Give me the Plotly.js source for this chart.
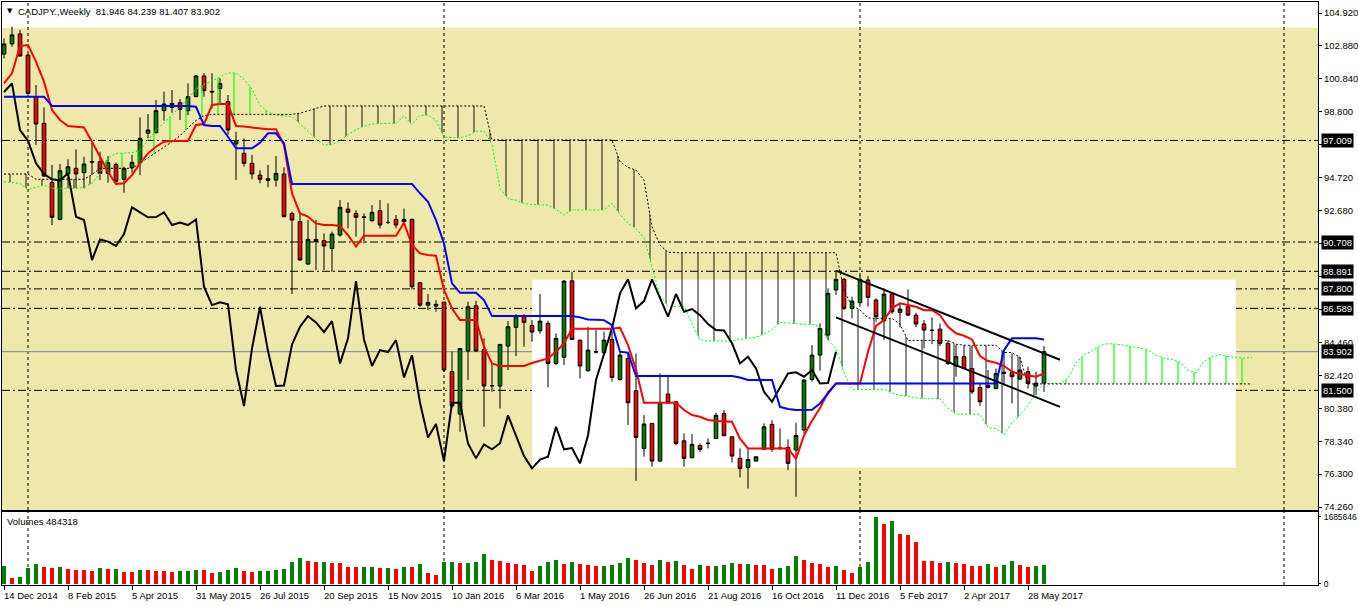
<!DOCTYPE html>
<html><head><meta charset="utf-8">
<script src="https://cdn.plot.ly/plotly-3.0.1.min.js"></script>
<style>html,body{margin:0;padding:0;background:#fff;}#chart{width:1358px;height:606px;}</style>
</head><body><div id="chart"></div>
<script>
const symbolTitle = 'CADJPY.,Weekly  81.946 84.239 81.407 83.902';
const volumeTitle = 'Volumes 484318';
const firstWeek = '2014-12-14';

const openP = [102.37,103.00,103.62,102.31,99.73,98.07,94.41,92.11,94.93,95.28,95.01,95.69,95.69,94.97,95.51,94.60,95.32,95.63,97.45,97.49,
98.86,99.06,99.35,98.86,99.73,101.01,100.06,100.24,99.42,96.79,96.21,95.59,94.86,94.64,94.55,94.93,92.48,91.97,89.34,90.87,
90.79,90.31,91.14,92.75,92.48,92.24,92.03,92.65,91.93,92.11,91.97,92.11,88.18,86.79,86.73,86.98,82.66,80.03,83.94,86.75,
84.04,81.77,81.77,84.25,85.41,86.07,85.53,85.20,85.66,83.17,83.55,88.30,84.62,82.72,83.90,83.84,84.66,82.18,83.48,81.48,
77.90,79.45,77.11,81.27,80.79,78.37,77.32,78.08,78.21,78.52,80.07,78.62,77.28,76.72,77.11,77.84,79.39,77.90,77.96,77.80,
79.04,82.18,83.69,84.93,87.73,88.39,86.59,86.94,88.35,87.11,85.82,87.48,86.34,86.69,86.17,85.62,85.24,85.30,84.42,83.01,
83.59,82.86,81.68,81.79,81.62,82.55,82.61,82.20,82.66,81.77,81.946];
const highP = [103.35,104.07,103.87,102.38,100.45,99.06,95.49,95.55,95.84,96.46,96.00,96.87,96.31,96.04,95.63,95.38,96.11,98.44,98.65,99.52,
100.04,100.14,99.58,100.55,101.07,101.18,101.18,100.86,99.83,97.55,97.14,96.11,95.17,95.49,96.04,95.34,92.59,92.53,92.07,92.07,
91.24,91.35,93.31,93.17,92.69,92.48,93.00,93.31,93.11,92.38,92.79,92.17,88.24,87.48,87.10,86.98,83.90,84.10,87.00,87.06,
84.73,83.17,84.35,85.80,86.23,86.23,85.86,87.48,85.82,85.04,88.35,88.86,84.62,85.45,85.24,85.14,85.14,83.90,83.79,83.79,
79.97,79.45,82.55,82.35,80.79,78.83,78.79,78.21,78.52,80.11,80.28,78.62,77.90,77.84,77.38,79.45,79.66,79.14,78.46,79.49,
82.20,84.31,85.66,87.83,88.97,88.45,87.31,88.66,88.59,87.21,87.83,87.56,86.90,87.77,86.32,85.86,86.03,85.66,84.62,84.31,
84.31,84.25,81.93,82.76,82.86,83.90,83.79,83.59,82.97,82.66,84.239];
const lowP = [102.10,102.83,102.21,99.90,96.73,94.76,91.76,92.07,94.04,94.04,94.04,94.86,94.55,94.39,94.35,93.77,95.01,94.86,97.14,97.45,
98.24,98.73,98.28,98.59,99.69,99.73,99.00,99.21,97.35,94.55,95.38,94.60,94.35,94.10,94.14,92.24,87.48,89.55,89.30,88.97,
88.97,88.86,91.04,91.55,91.04,90.62,91.97,91.55,91.82,91.55,91.86,87.77,86.69,86.48,86.38,82.66,80.40,78.93,82.14,83.90,
79.24,81.41,80.38,82.76,83.63,84.21,84.52,85.00,81.69,83.07,83.07,84.62,82.24,82.66,83.79,83.84,82.04,82.10,79.35,75.89,
77.38,76.76,77.07,80.69,78.10,76.76,77.28,77.69,77.90,78.52,78.68,77.03,76.10,75.41,77.11,77.80,77.69,77.80,76.55,74.90,
78.83,82.04,82.72,84.62,87.42,86.48,85.97,86.69,86.69,85.76,84.62,86.24,85.41,86.11,85.41,84.10,84.37,84.25,83.07,82.35,
82.86,81.27,80.52,81.62,81.56,81.80,80.69,82.14,81.62,81.21,81.407];
const closeP = [103.00,103.56,102.25,99.93,98.03,94.80,92.24,95.13,95.38,94.93,95.55,95.67,94.97,95.63,94.47,95.28,95.65,97.14,97.66,98.86,
99.27,99.31,98.94,99.73,101.01,100.10,100.02,100.55,97.66,96.99,95.59,94.93,94.60,94.53,94.97,92.28,92.07,89.59,90.87,90.73,
90.46,91.20,92.86,92.55,92.24,92.26,92.55,91.76,91.92,91.76,92.11,87.93,86.79,86.96,86.84,82.76,80.53,84.10,86.69,83.94,
81.77,81.80,84.35,85.45,86.11,85.72,85.12,85.80,83.17,84.73,88.28,84.66,83.01,84.00,83.88,84.62,82.30,83.69,80.73,78.58,
79.41,77.11,80.73,80.73,78.21,77.28,78.15,77.84,78.22,79.95,78.68,77.42,76.66,77.21,77.38,79.24,77.84,77.92,76.97,78.70,
82.14,83.69,85.35,87.52,88.39,86.59,87.04,88.39,87.27,86.07,87.48,86.38,86.55,86.17,85.62,85.24,85.22,84.42,83.17,83.59,
82.86,81.41,80.79,81.68,82.55,82.62,82.35,82.76,81.93,81.95,83.902];
const volumes = [451000,159000,184000,401000,501000,426000,401000,426000,376000,351000,349000,326000,401000,376000,378000,301000,299000,351000,349000,326000,
324000,301000,326000,327000,351000,349000,276000,301000,351000,401000,326000,301000,326000,327000,351000,376000,551000,651000,576000,551000,
552000,526000,525000,426000,425000,426000,427000,401000,402000,376000,426000,425000,501000,276000,225000,551000,552000,526000,527000,551000,
751000,601000,576000,526000,501000,476000,326000,451000,551000,601000,501000,551000,501000,476000,451000,452000,476000,526000,651000,601000,
526000,476000,601000,551000,576000,476000,376000,476000,451000,452000,476000,526000,501000,502000,476000,475000,376000,401000,451000,701000,
601000,526000,501000,426000,451000,351000,276000,426000,551000,1685646,1503000,1578000,1252000,1227000,1052000,576000,575000,526000,551000,526000,
501000,451000,450000,501000,426000,476000,576000,476000,420000,455000,484318];
const tenkan = [100.55,101.18,102.87,102.93,101.90,100.66,98.90,98.28,97.91,97.87,97.82,96.93,96.00,95.07,94.31,94.35,94.86,95.59,96.21,96.62,
96.93,96.98,96.98,96.98,97.97,98.03,99.21,99.27,99.27,97.91,97.87,97.82,97.76,97.70,97.70,96.73,93.73,92.48,92.28,91.86,
91.76,91.76,91.70,91.14,90.42,91.10,91.10,91.10,91.10,91.10,91.90,90.52,90.00,89.90,89.86,87.73,86.59,85.86,85.86,85.86,
84.21,83.17,83.01,83.01,83.01,83.01,83.20,83.35,83.48,83.90,84.42,85.33,85.33,85.33,85.33,85.33,85.33,85.39,84.31,82.80,
80.73,80.73,80.73,80.73,80.73,80.28,79.97,79.86,79.66,79.60,79.58,79.55,78.50,77.90,77.90,77.90,77.90,77.90,77.90,77.25,
78.70,79.62,80.40,81.38,81.93,81.93,81.93,81.93,83.90,85.50,85.86,86.60,86.90,86.80,86.69,86.48,86.48,86.17,85.45,85.04,
84.89,84.66,83.63,83.32,83.21,83.01,82.66,82.51,82.45,82.35,82.55];
const kijun = [99.73,99.73,99.73,99.73,99.73,99.73,99.15,99.15,99.15,99.15,99.15,99.15,99.15,99.15,99.15,99.15,99.15,99.15,99.15,99.15,
99.15,99.15,99.15,99.15,99.10,97.97,97.91,97.91,97.24,96.52,96.52,96.52,96.87,97.45,97.45,96.83,94.31,94.31,94.31,94.31,
94.31,94.31,94.31,94.31,94.31,94.31,94.31,94.31,94.31,94.31,94.31,94.31,93.73,93.21,92.07,90.62,88.14,87.56,87.56,87.56,
87.10,86.11,86.11,86.11,86.11,86.11,86.11,86.11,86.11,86.11,86.11,86.11,86.03,85.90,85.88,85.86,85.55,83.90,83.84,82.39,
82.39,82.39,82.39,82.39,82.39,82.39,82.39,82.39,82.39,82.39,82.39,82.39,82.30,82.14,82.14,82.14,82.14,80.48,80.35,80.28,
80.28,80.30,80.69,81.31,81.93,81.93,81.93,81.93,81.93,81.93,81.93,81.93,81.93,81.93,81.93,81.93,81.93,81.93,81.93,81.93,
81.93,81.93,81.93,81.93,81.93,84.00,84.73,84.73,84.73,84.73,84.66];
const spanA = [94.45,94.40,94.35,93.95,94.10,94.24,94.04,94.04,94.04,94.04,94.10,94.35,94.97,95.90,96.21,96.23,96.25,96.40,97.00,97.66,
98.10,98.60,99.10,99.60,100.20,100.50,100.70,100.95,101.20,101.20,100.80,100.20,99.20,98.80,98.55,98.53,98.50,98.04,97.58,97.11,
96.73,96.75,97.00,97.37,97.68,97.89,98.04,98.07,98.07,98.07,98.53,98.00,98.56,98.59,98.26,97.22,97.20,97.17,97.30,97.58,
97.58,96.78,94.02,93.40,93.30,93.09,93.04,93.04,93.00,92.73,92.37,92.70,92.70,92.70,92.70,92.70,93.10,92.42,91.87,91.55,
90.97,89.18,87.37,86.71,86.71,86.71,85.66,84.64,84.56,84.56,84.56,84.56,84.66,84.73,84.80,85.00,85.27,85.72,85.68,85.62,
85.60,85.60,85.44,84.65,84.08,82.60,81.56,81.56,81.56,81.56,81.56,81.34,81.18,81.13,81.03,81.00,80.99,80.97,80.40,80.02,
80.02,80.02,80.02,79.19,79.13,78.77,79.49,79.96,80.55,81.35,81.93,81.93,81.93,82.24,83.20,83.72,83.95,84.27,84.40,84.37,
84.31,84.20,84.15,84.00,83.69,83.49,83.41,83.25,82.75,82.60,83.30,83.60,83.72,83.60,83.55,83.50,83.55];
const spanB = [94.93,94.93,94.93,94.93,94.60,94.60,94.60,94.60,94.60,94.60,94.60,94.90,95.28,95.28,95.28,95.28,95.28,95.60,95.95,96.30,
96.60,96.93,97.30,97.80,98.25,98.55,98.63,98.63,98.63,98.63,98.63,98.63,98.63,98.63,98.63,98.63,98.63,98.70,98.85,99.00,
99.15,99.15,99.15,99.15,99.15,99.15,99.15,99.15,99.15,99.15,99.15,99.15,99.15,99.15,99.15,99.15,99.15,99.15,99.15,99.15,
99.15,97.04,97.04,97.04,97.04,97.04,97.04,97.04,97.04,97.04,97.04,97.04,97.04,97.04,97.04,97.04,97.04,95.69,95.34,95.17,
94.55,91.66,90.52,90.07,90.04,90.04,90.04,90.04,90.04,90.04,90.04,90.04,90.04,90.04,90.04,90.04,90.04,90.04,90.04,90.04,
90.04,90.04,90.04,90.04,90.04,87.70,86.72,86.50,86.00,85.97,85.97,85.97,85.60,84.60,84.60,84.60,84.60,84.60,84.60,84.36,
84.30,84.30,84.30,84.30,84.30,83.85,83.85,83.54,81.90,81.90,81.90,81.90,81.90,81.90,81.90,81.90,81.90,81.90,81.90,81.90,
81.90,81.90,81.90,81.90,81.90,81.90,81.90,81.90,81.90,81.90,81.90,81.90,81.90,81.90,81.90,81.90,81.90];

const tickLabels = ['14 Dec 2014','8 Feb 2015','5 Apr 2015','31 May 2015','26 Jul 2015','20 Sep 2015','15 Nov 2015','10 Jan 2016',
'6 Mar 2016','1 May 2016','26 Jun 2016','21 Aug 2016','16 Oct 2016','11 Dec 2016','5 Feb 2017','2 Apr 2017','28 May 2017'];
const priceTicks = [104.920,102.880,100.840,98.800,96.760,94.720,92.680,90.640,88.540,86.500,84.460,82.420,80.380,78.340,76.300,74.260];
const hiddenTicks = [96.760,90.640,88.540,86.500];
const volumeTicks = [0,1685646];
const levels = [97.009,90.708,88.891,87.800,86.589,81.500];
const lastPrice = 83.902;
const separators = ['2015-01-04','2016-01-03','2017-01-01','2018-01-07'];
const trendX = ['2016-12-11','2017-06-25'];
const upperTrendY = [88.93,83.40];
const lowerTrendY = [86.03,80.48];
const bgRectTop = 104.0;
const whiteRectX = ['2016-03-20','2017-11-26'];
const whiteRectY = [76.70,88.37];

const WEEK = 7*24*3600*1000;
const t0 = Date.parse(firstWeek+'T00:00:00Z');
function ds(ms){return new Date(ms).toISOString().slice(0,19).replace('T',' ');}
const allDates = spanA.map((_,i)=>ds(t0+i*WEEK));
const dates = allDates.slice(0,closeP.length);
const xRange = [ds(t0-0.25*WEEK), ds(t0+164.25*WEEK)];
const yMain = [74.074,105.603];
const yVol = [-25000,1803000];
const cloudTop = spanA.map((a,i)=>Math.max(a,spanB[i]));
const volColors = volumes.map((v,i)=> (i===0 || v>volumes[i-1]) ? '#008000' : '#ff0000');

const GREEN='#008000', RED='#ff0000', LIME='#00ff00';
const noHover = {hoverinfo:'skip'};
const traces = [
 Object.assign({x:allDates,y:spanB,mode:'lines',line:{width:0},xaxis:'x',yaxis:'y'},noHover),
 Object.assign({x:allDates,y:cloudTop,mode:'lines',line:{width:0},fill:'tonexty',fillcolor:'rgba(0,0,0,0)',
   fillpattern:{shape:'|',size:16,solidity:0.07,fgcolor:LIME,bgcolor:'rgba(0,0,0,0)',fgopacity:1},xaxis:'x',yaxis:'y'},noHover),
 Object.assign({x:allDates,y:spanA,mode:'lines',line:{width:0},xaxis:'x',yaxis:'y'},noHover),
 Object.assign({x:allDates,y:cloudTop,mode:'lines',line:{width:0},fill:'tonexty',fillcolor:'rgba(0,0,0,0)',
   fillpattern:{shape:'|',size:16,solidity:0.07,fgcolor:'#000000',bgcolor:'rgba(0,0,0,0)',fgopacity:0.8},xaxis:'x',yaxis:'y'},noHover),
 Object.assign({x:allDates,y:spanA,mode:'lines',line:{color:LIME,width:1,dash:'2px,2px'},xaxis:'x',yaxis:'y'},noHover),
 Object.assign({x:allDates,y:spanB,mode:'lines',line:{color:'#000',width:1,dash:'2px,2px'},xaxis:'x',yaxis:'y'},noHover),
 Object.assign({type:'candlestick',x:dates,open:openP,high:highP,low:lowP,close:closeP,whiskerwidth:0,
   increasing:{line:{color:'#000',width:1},fillcolor:GREEN},decreasing:{line:{color:'#000',width:1},fillcolor:RED},xaxis:'x',yaxis:'y'},noHover),
 Object.assign({x:dates.slice(0,closeP.length-26),y:closeP.slice(26),mode:'lines',line:{color:'#000',width:2},xaxis:'x',yaxis:'y'},noHover),
 Object.assign({x:dates,y:tenkan,mode:'lines',line:{color:RED,width:2},xaxis:'x',yaxis:'y'},noHover),
 Object.assign({x:dates,y:kijun,mode:'lines',line:{color:'#0000ff',width:2},xaxis:'x',yaxis:'y'},noHover),
 Object.assign({x:trendX,y:upperTrendY,mode:'lines',line:{color:'#000',width:2},xaxis:'x',yaxis:'y'},noHover),
 Object.assign({x:trendX,y:lowerTrendY,mode:'lines',line:{color:'#000',width:2},xaxis:'x',yaxis:'y'},noHover),
 Object.assign({type:'bar',x:dates,y:volumes,marker:{color:volColors,line:{width:0}},width:0.5*WEEK,xaxis:'x2',yaxis:'y2'},noHover)
];

const shapes = [
 {type:'rect',xref:'x domain',yref:'y',x0:0,x1:1,y0:yMain[0]-1,y1:bgRectTop,fillcolor:'#eee8aa',line:{width:0},layer:'below'},
 {type:'rect',xref:'x',yref:'y',x0:whiteRectX[0],x1:whiteRectX[1],y0:whiteRectY[0],y1:whiteRectY[1],fillcolor:'#ffffff',line:{width:0},layer:'below'}
];
separators.forEach(d=>{
 shapes.push({type:'line',xref:'x',yref:'y domain',x0:d,x1:d,y0:0,y1:1,line:{color:'#000',width:1,dash:'3px,3px'},layer:'below'});
 shapes.push({type:'line',xref:'x2',yref:'y2 domain',x0:d,x1:d,y0:0,y1:1,line:{color:'#000',width:1,dash:'3px,3px'},layer:'below'});
});
levels.forEach(v=>shapes.push({type:'line',xref:'x domain',yref:'y',x0:0,x1:1,y0:v,y1:v,line:{color:'#000',width:1,dash:'8px,3px,2px,3px'},layer:'below'}));
shapes.push({type:'line',xref:'x domain',yref:'y',x0:0,x1:1,y0:lastPrice,y1:lastPrice,line:{color:'#778899',width:1},layer:'below'});

const F = 'Liberation Sans, Arial, sans-serif';
const annotations = [];
levels.concat([lastPrice]).forEach(v=>annotations.push({xref:'paper',yref:'y',x:1,y:v,xanchor:'left',yanchor:'middle',xshift:3,
  text:v.toFixed(3),showarrow:false,bgcolor:'#000',font:{family:F,size:9.5,color:'#fff'},borderpad:1}));
tickLabels.forEach((t,k)=>annotations.push({xref:'x2',yref:'paper',x:dates[8*k],y:0,xanchor:'left',yanchor:'top',yshift:-3,xshift:-2,
  text:t,showarrow:false,font:{family:F,size:9.5,color:'#000'}}));
annotations.push({xref:'paper',yref:'paper',x:0,y:1,xanchor:'left',yanchor:'top',xshift:14,yshift:-2,text:symbolTitle,showarrow:false,font:{family:F,size:9.5,color:'#000'}});
annotations.push({xref:'paper',yref:'paper',x:0,y:1,xanchor:'left',yanchor:'top',xshift:3,yshift:-3,text:'▼',showarrow:false,font:{family:'DejaVu Sans',size:7,color:'#000'}});
annotations.push({xref:'paper',yref:'y2 domain',x:0,y:1,xanchor:'left',yanchor:'top',xshift:3,yshift:-2,text:volumeTitle,showarrow:false,font:{family:F,size:9.5,color:'#000'}});

const axCommon = {showgrid:false,zeroline:false,showline:true,mirror:true,linecolor:'#000',linewidth:1,fixedrange:true};
const layout = {
 width:1358,height:606,margin:{l:2,r:40,t:2,b:21},
 paper_bgcolor:'#ffffff',plot_bgcolor:'#ffffff',showlegend:false,boxgap:0.35,bargap:0,
 font:{family:F,size:9.5,color:'#000'},
 xaxis:Object.assign({type:'date',anchor:'y',domain:[0,1],range:xRange,showticklabels:false,ticks:'',rangeslider:{visible:false}},axCommon),
 yaxis:Object.assign({domain:[0.1286,1],range:yMain,side:'right',tickmode:'array',tickvals:priceTicks,
   ticktext:priceTicks.map(v=>hiddenTicks.includes(v)?'':v.toFixed(3)),
   ticks:'outside',ticklen:3,tickcolor:'#000',tickfont:{family:F,size:9.5,color:'#000'}},axCommon),
 xaxis2:Object.assign({type:'date',anchor:'y2',domain:[0,1],range:xRange,tickmode:'array',tickvals:tickLabels.map((_,k)=>dates[8*k]),
   ticks:'outside',ticklen:4,tickcolor:'#000',showticklabels:false,rangeslider:{visible:false}},axCommon),
 yaxis2:Object.assign({domain:[0,0.1252],range:yVol,side:'right',tickmode:'array',tickvals:volumeTicks,ticktext:volumeTicks.map(String),
   ticks:'outside',ticklen:2,tickcolor:'#000',ticklabelstandoff:1,tickfont:{family:F,size:8.5,color:'#000'}},axCommon),
 shapes:shapes,annotations:annotations
};
Plotly.newPlot('chart',traces,layout,{displayModeBar:false,staticPlot:true});
</script></body></html>
